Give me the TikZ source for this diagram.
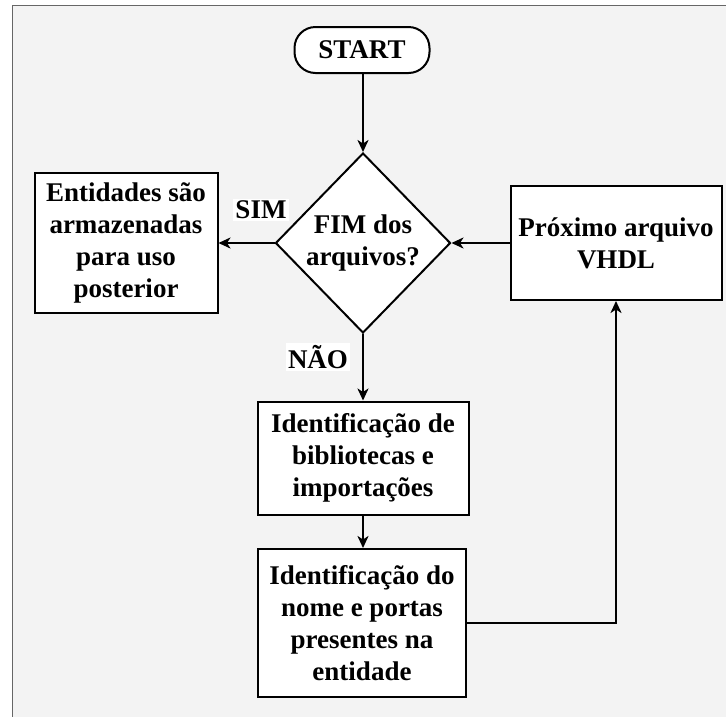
\documentclass[tikz,border=0pt]{standalone}
\usepackage{fontspec}
\setmainfont{Liberation Serif}
\usetikzlibrary{shapes.geometric,arrows.meta}
\definecolor{pagebg}{HTML}{F3F3F3}
\definecolor{framegray}{HTML}{666666}
\begin{document}
\begin{tikzpicture}[x=1pt,y=-1pt,
  every node/.style={font=\bfseries\fontsize{27}{32}\selectfont, align=center},
  box/.style={draw, fill=white, line width=2pt, inner sep=0pt},
  decision/.style={draw, fill=white, line width=2pt, shape=diamond, inner sep=0pt, aspect=0.97},
  terminal/.style={draw, fill=white, line width=2pt, rounded corners=21pt, inner sep=0pt},
  tag/.style={fill=white, inner sep=2pt},
  flow/.style={line width=2pt, -{Stealth[length=12pt,width=11pt,inset=3.5pt]}},
  link/.style={line width=2pt}]
  \useasboundingbox (0,0) rectangle (726,716);
  % page background with its frame
  \begin{scope}
    \clip (0,0) rectangle (726,716);
    \draw[framegray, fill=pagebg, line width=1.5pt] (12.5,5.5) rectangle (760,760);
  \end{scope}

  % process steps
  \node[terminal, minimum width=135, minimum height=46] (start) at (362,50) {START};
  \node[decision, minimum width=175, minimum height=180] (dec) at (363,243) {FIM dos\\arquivos?};
  \node[box, minimum width=183, minimum height=140] (ent) at (126,243) {Entidades são\\armazenadas\\para uso\\posterior};
  \node[box, minimum width=211, minimum height=114] (prox) at (616,243) {Próximo arquivo\\VHDL};
  \node[box, minimum width=211, minimum height=113] (bib) at (363,458) {Identificação de\\bibliotecas e\\importações};
  \node[box, minimum width=208, minimum height=148] (nome) at (362,623) {Identificação do\\nome e portas\\presentes na\\entidade};

  % connectors
  \draw[flow] (start.south -| dec.north) -- (dec.north);
  \draw[flow] (dec.west) -- (ent.east);
  \draw[flow] (prox.west) -- (dec.east);
  \draw[flow] (dec.south) -- (bib.north);
  \draw[flow] (bib.south) -- (bib.south |- nome.north);
  \draw[flow] (nome.east) -| (prox.south);

  % branch labels
  \node[tag] (sim) at (261,210) {SIM};
  \node[tag] (nao) at (318,357) {NÃO};
\end{tikzpicture}
\end{document}
